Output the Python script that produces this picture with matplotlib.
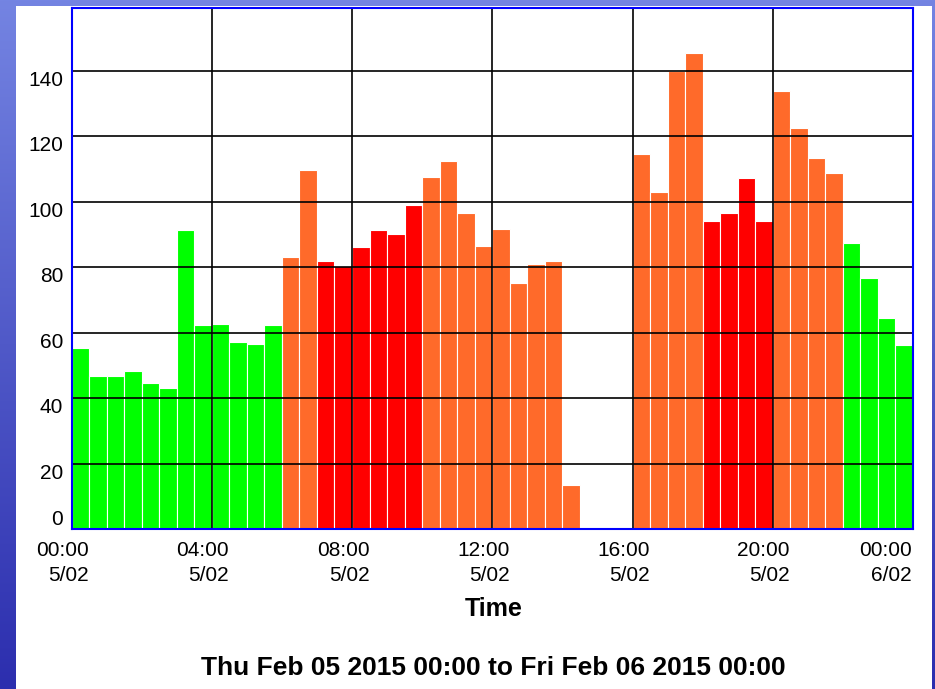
import numpy as np
import matplotlib
matplotlib.use("Agg")
import matplotlib.pyplot as plt
from matplotlib.patches import Rectangle

# half-hour readings, Thu 5 Feb 2015 00:00 -> Fri 6 Feb 2015 00:00
hours = np.arange(48) * 0.5
usage = [55.4, 46.7, 46.7, 48.3, 44.7, 43.1, 91.2, 62.2, 62.7, 57.1, 56.6, 62.2,
         83.0, 109.7, 81.8, 80.3, 86.0, 91.2, 90.1, 98.9, 107.6, 112.4, 96.4, 86.5,
         91.7, 75.2, 80.8, 81.8, 13.3, np.nan, np.nan, np.nan, 114.4, 103.0, 140.0, 145.3,
         94.2, 96.4, 107.2, 94.2, 133.6, 122.6, 113.4, 108.8, 87.4, 76.7, 64.4, 56.1]
tariff = (['off'] * 12 + ['shoulder'] * 2 + ['peak'] * 6 + ['shoulder'] * 16
          + ['peak'] * 4 + ['shoulder'] * 4 + ['off'] * 4)
tariff_colors = {'off': '#00ff00', 'shoulder': '#ff6a2a', 'peak': '#ff0000'}

xticks = [0, 4, 8, 12, 16, 20, 24]
xtick_labels = ["00:00\n5/02", "04:00\n5/02", "08:00\n5/02", "12:00\n5/02",
                "16:00\n5/02", "20:00\n5/02", "00:00\n6/02"]
yticks = [0, 20, 40, 60, 80, 100, 120, 140]

plt.rcParams['font.family'] = ['Liberation Sans', 'DejaVu Sans']

W, H = 935, 689
fig = plt.figure(figsize=(W / 100, H / 100), dpi=100)

# blue gradient backdrop + white panel
bg = fig.add_axes([0, 0, 1, 1], zorder=-2)
grad = np.linspace(0, 1, 256)[:, None, None]
top = np.array([0x74, 0x84, 0xe2]) / 255
bot = np.array([0x2c, 0x2e, 0xae]) / 255
bg.imshow(top + (bot - top) * grad, aspect='auto', extent=[0, 1, 0, 1])
bg.set_axis_off()
fig.patches.append(Rectangle((16 / W, 0), (932 - 16) / W, (H - 6) / H,
                             transform=fig.transFigure, facecolor='white',
                             edgecolor='none', zorder=-1))

ax = fig.add_axes([71.5 / W, (H - 529) / H, (913 - 71.5) / W, (529 - 8.3) / H])
ax.bar(hours, usage, width=0.5, align='edge',
       color=[tariff_colors[t] for t in tariff], edgecolor='white', linewidth=0.8)

ax.set_xlim(0, 24)
ax.set_ylim(0, 159)
ax.set_xticks(xticks)
ax.set_xticklabels([])
ax.set_yticks(yticks)
ax.set_yticklabels([str(v) for v in yticks], fontsize=15)
for lbl in ax.get_yticklabels():
    lbl.set_va('bottom' if lbl.get_text() == '0' else 'top')
ax.tick_params(length=0, pad=6)

ax.set_axisbelow(False)
ax.grid(True, color='black', linewidth=1.2)
for sp in ax.spines.values():
    sp.set_color('#0000ff')
    sp.set_linewidth(1.5)
    sp.set_zorder(4)

# two-line time labels under the axis
for x, txt in zip(xticks, xtick_labels):
    last = x == xticks[-1]
    ax.annotate(txt, xy=(x, 0), xycoords=('data', 'axes fraction'),
                xytext=(-1 if last else -9, -12), textcoords='offset pixels',
                ha='right' if last else 'center', va='top', ma='right',
                fontsize=15, linespacing=1.4, annotation_clip=False)

fig.text(494 / W, 1 - 609 / H, "Time", ha='center', va='center',
         fontsize=18, fontweight='bold')
fig.text(493 / W, 1 - 668 / H, "Thu Feb 05 2015 00:00 to Fri Feb 06 2015 00:00",
         ha='center', va='center', fontsize=19, fontweight='bold')

fig.savefig("out.png", dpi=100)
